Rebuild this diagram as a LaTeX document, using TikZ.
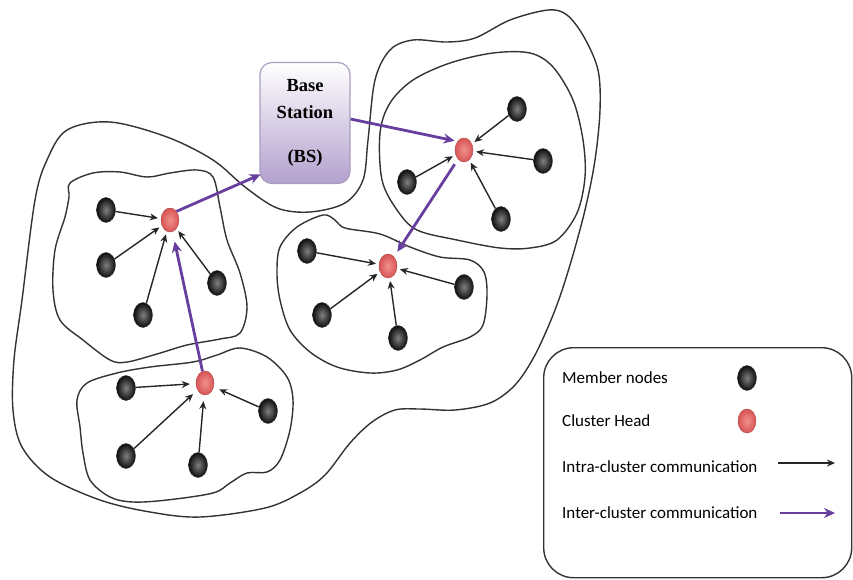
\documentclass[tikz,border=0pt]{standalone}
\usepackage{fontspec}
\setmainfont{Liberation Serif}
\newfontfamily\legendfont{Carlito}
\usetikzlibrary{shapes.geometric,arrows.meta}
\definecolor{purp}{RGB}{104,62,158}
\definecolor{bsedge}{RGB}{170,158,192}
\definecolor{bsbottom}{RGB}{178,160,205}
\definecolor{chred}{RGB}{215,85,85}
\definecolor{chlight}{RGB}{240,145,140}
\begin{document}
\begin{tikzpicture}[x=1pt,y=-1pt,
 blob/.style={draw=black!80, line width=1.4pt},
 member/.style={ellipse, minimum width=19pt, minimum height=25pt, inner sep=0pt, draw=black!75, shading=radial, inner color=black!50, outer color=black!95},
 head/.style={ellipse, minimum width=18pt, minimum height=24pt, inner sep=0pt, draw=chred!80!black, shading=radial, inner color=chlight, outer color=chred},
 intra/.style={-{Stealth[length=8pt,width=7pt]}, line width=1.4pt, draw=black!85, shorten >=3pt},
 inter/.style={-{Stealth[length=11pt,width=10pt]}, line width=2.8pt, draw=purp, shorten >=3pt},
 bsbox/.style={rounded corners=12pt, minimum width=90pt, minimum height=121pt, draw=bsedge, line width=1.2pt, top color=white, bottom color=bsbottom, align=center, font=\fontsize{18.5}{27}\selectfont\bfseries},
 legtext/.style={anchor=west, font=\legendfont\fontsize{17}{18}\selectfont, inner sep=0pt}
]
\useasboundingbox (0,0) rectangle (853,579);

% outer region
\draw[blob] plot[smooth cycle, tension=0.55] coordinates {
 (67,130) (110,122) (167,137) (213,160) (245,187) (277,208) (310,212) (345,203) (363,180)
 (368,140) (375,80) (390,50) (413,40) (447,42) (475,38) (510,20) (548,10) (567,15)
 (584,37) (598,70) (600,110) (595,160) (585,210) (570,265) (555,310) (535,355) (515,385)
 (490,403) (455,410) (420,409) (395,410) (372,422) (350,443) (325,475) (300,493) (265,508)
 (200,517) (150,512) (100,500) (50,477) (22,447) (13,410) (14,360) (22,300) (35,200) (47,160)};

% top-right cluster
\draw[blob] plot[smooth cycle, tension=0.55] coordinates {
 (380,133) (390,103) (413,80) (450,63) (493,53) (530,53) (553,67) (573,100) (583,140)
 (585,177) (577,213) (557,240) (530,248) (500,248) (457,240) (417,230) (397,210) (382,180)};

% upper-left cluster
\draw[blob] plot[smooth cycle, tension=0.55] coordinates {
 (70,183) (93,173) (120,172) (147,177) (170,173) (197,170) (213,177) (220,207) (227,240)
 (240,273) (247,307) (240,333) (220,339) (187,345) (157,354) (127,362) (110,360) (83,340)
 (60,320) (53,290) (55,250) (65,217) (69,197)};

% bottom cluster
\draw[blob] plot[smooth cycle, tension=0.55] coordinates {
 (77,400) (87,383) (117,373) (150,367) (193,362) (217,355) (240,348) (267,357) (287,377)
 (293,400) (290,430) (280,460) (267,472) (247,473) (230,483) (213,493) (167,500) (133,502)
 (110,497) (90,480) (83,453) (80,427)};

% middle cluster
\draw[blob] plot[smooth cycle, tension=0.55] coordinates {
 (280,247) (297,227) (323,215) (335,220) (345,228) (380,234) (410,247) (440,257) (470,260)
 (484,272) (487,295) (483,325) (470,337) (443,347) (420,360) (397,370) (370,373) (337,367)
 (310,352) (290,330) (280,300) (277,273)};

% base station
\node[bsbox] (bs) at (305,123) {Base\\Station\\[17pt](BS)};

% cluster heads
\node[head] (ch1) at (464,150) {};
\node[head] (ch2) at (170,220) {};
\node[head] (ch3) at (388,266) {};
\node[head] (ch4) at (205,383) {};

% members of ch1
\node[member] (m11) at (517,109) {};
\node[member] (m12) at (543,161) {};
\node[member] (m13) at (407,182) {};
\node[member] (m14) at (501,219) {};
% members of ch2
\node[member] (m21) at (106,210) {};
\node[member] (m22) at (106,265) {};
\node[member] (m23) at (143,315) {};
\node[member] (m24) at (217,283) {};
% members of ch3
\node[member] (m31) at (307,251) {};
\node[member] (m32) at (464,287) {};
\node[member] (m33) at (322,315) {};
\node[member] (m34) at (398,338) {};
% members of ch4
\node[member] (m41) at (126,388) {};
\node[member] (m42) at (268,411) {};
\node[member] (m43) at (126,456) {};
\node[member] (m44) at (198,465) {};

% intra-cluster arrows
\foreach \m in {m11,m12,m13,m14} \draw[intra] (\m) -- (ch1);
\foreach \m in {m21,m22,m23,m24} \draw[intra] (\m) -- (ch2);
\foreach \m in {m31,m32,m33,m34} \draw[intra] (\m) -- (ch3);
\foreach \m in {m41,m42,m43,m44} \draw[intra, shorten >=6pt] (\m) -- (ch4);

% inter-cluster arrows
\draw[inter] ([yshift=4pt]bs.east) -- (ch1.north west);
\draw[inter, shorten >=1pt] (ch2.north east) -- ([shift={(2,-10)}]bs.south west);
\draw[inter, shorten <=6pt, shorten >=6pt] (ch1) -- (ch3);
\draw[inter, shorten >=10pt] (ch4) -- (ch2);

% legend
\node[draw=black!80, line width=1.4pt, rounded corners=30pt, minimum width=308pt, minimum height=230pt, anchor=north west] (legend) at (543,347) {};
\node[legtext] (lt1) at (562,378) {Member nodes};
\node[legtext] (lt2) at (562,421) {Cluster Head};
\node[legtext] (lt3) at (562,467) {Intra-cluster communication};
\node[legtext] (lt4) at (562,513) {Inter-cluster communication};
\node[member] (lm) at (747,378) {};
\node[head] (lh) at (747,421) {};
\coordinate (la1) at (778,463);
\coordinate (la2) at (835,463);
\coordinate (lb1) at (780,513);
\coordinate (lb2) at (835,513);
\draw[intra, shorten >=0pt] (la1) -- (la2);
\draw[inter, shorten >=0pt] (lb1) -- (lb2);
\end{tikzpicture}
\end{document}
